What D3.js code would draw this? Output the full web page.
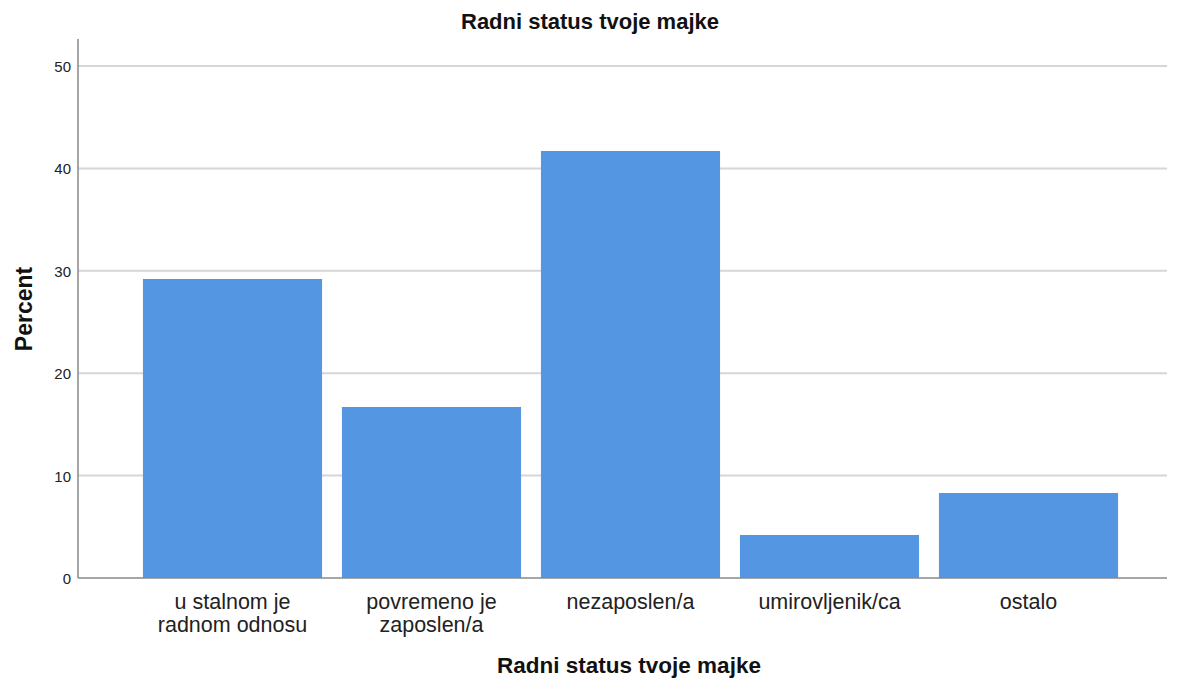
<!DOCTYPE html>
<html lang="hr">
  <head>
    <meta charset="UTF-8" />
    <title>Radni status tvoje majke</title>
    <script src="https://d3js.org/d3.v7.min.js"></script>
    <style>
      body {
        margin: 0;
        background: #fff;
        font-family: "Liberation Sans", Arial, sans-serif;
      }
      .grid line {
        stroke: #d6d6d6;
        stroke-width: 2;
      }
    </style>
  </head>
  <body>
    <svg id="chart"></svg>
    <script>
      const width = 1181;
      const height = 684;

      const categories = [
        ["u stalnom je", "radnom odnosu"],
        ["povremeno je", "zaposlen/a"],
        ["nezaposlen/a"],
        ["umirovljenik/ca"],
        ["ostalo"],
      ];
      const percents = [29.2, 16.7, 41.7, 4.2, 8.3];
      const yTicks = [0, 10, 20, 30, 40, 50];

      const axisLeft = 78;
      const axisRight = 1167;
      const axisTop = 39;
      const axisBottom = 578;

      const svg = d3
        .select("#chart")
        .attr("width", width)
        .attr("height", height);

      const x = d3
        .scaleBand()
        .domain(d3.range(categories.length))
        .range([133, 1128])
        .paddingInner(0.1)
        .paddingOuter(0.05);

      const y = d3
        .scaleLinear()
        .domain([0, 50])
        .range([axisBottom, 66]);

      // grid lines
      svg
        .append("g")
        .attr("class", "grid")
        .selectAll("line")
        .data(yTicks.filter((d) => d > 0))
        .enter()
        .append("line")
        .attr("x1", axisLeft)
        .attr("x2", axisRight)
        .attr("y1", (d) => y(d))
        .attr("y2", (d) => y(d));

      // bars
      svg
        .append("g")
        .selectAll("rect")
        .data(percents)
        .enter()
        .append("rect")
        .attr("x", (d, i) => x(i))
        .attr("width", x.bandwidth())
        .attr("y", (d) => y(d))
        .attr("height", (d) => y(0) - y(d))
        .attr("fill", "#5596e3");

      // axes lines
      svg
        .append("line")
        .attr("x1", axisLeft)
        .attr("x2", axisLeft)
        .attr("y1", axisTop)
        .attr("y2", axisBottom)
        .attr("stroke", "#888")
        .attr("stroke-width", 1.5);
      svg
        .append("line")
        .attr("x1", axisLeft)
        .attr("x2", axisRight)
        .attr("y1", axisBottom)
        .attr("y2", axisBottom)
        .attr("stroke", "#888")
        .attr("stroke-width", 1.5);

      // y tick labels
      svg
        .append("g")
        .selectAll("text")
        .data(yTicks)
        .enter()
        .append("text")
        .attr("x", axisLeft - 7)
        .attr("y", (d) => y(d) + 6)
        .attr("text-anchor", "end")
        .attr("font-size", "15px")
        .attr("fill", "#222")
        .text((d) => d);

      // x category labels
      const catLabels = svg
        .append("g")
        .selectAll("text")
        .data(categories)
        .enter()
        .append("text")
        .attr("x", (d, i) => x(i) + x.bandwidth() / 2)
        .attr("y", 609)
        .attr("text-anchor", "middle")
        .attr("font-size", "21.5px")
        .attr("fill", "#222");
      catLabels
        .selectAll("tspan")
        .data((d) => d)
        .enter()
        .append("tspan")
        .attr("x", function () {
          return d3.select(this.parentNode).attr("x");
        })
        .attr("dy", (d, i) => (i === 0 ? 0 : 23))
        .text((d) => d);

      // title
      svg
        .append("text")
        .attr("x", 590)
        .attr("y", 29)
        .attr("text-anchor", "middle")
        .attr("font-size", "22px")
        .attr("font-weight", "bold")
        .attr("fill", "#111")
        .text("Radni status tvoje majke");

      // axis titles
      svg
        .append("text")
        .attr("x", 629)
        .attr("y", 673)
        .attr("text-anchor", "middle")
        .attr("font-size", "22.5px")
        .attr("font-weight", "bold")
        .attr("fill", "#111")
        .text("Radni status tvoje majke");

      svg
        .append("text")
        .attr("transform", "translate(32, 309) rotate(-90)")
        .attr("text-anchor", "middle")
        .attr("font-size", "23px")
        .attr("font-weight", "bold")
        .attr("fill", "#111")
        .text("Percent");
    </script>
  </body>
</html>
